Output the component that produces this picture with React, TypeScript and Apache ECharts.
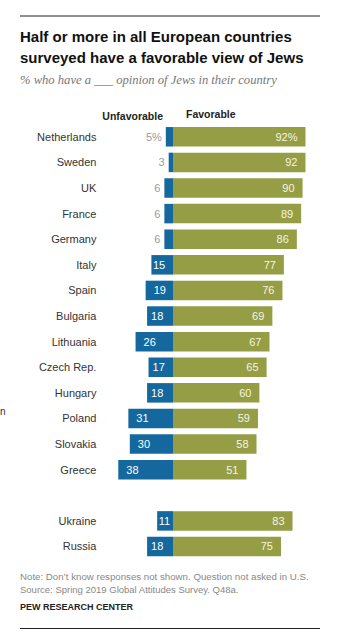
import React, { useEffect, useRef } from "react";
import * as echarts from "echarts";

const countries = [
  "Netherlands", "Sweden", "UK", "France", "Germany", "Italy", "Spain", "Bulgaria",
  "Lithuania", "Czech Rep.", "Hungary", "Poland", "Slovakia", "Greece", "", "Ukraine", "Russia",
];
const unfavorable: (number | null)[] = [5, 3, 6, 6, 6, 15, 19, 18, 26, 17, 18, 31, 30, 38, null, 11, 18];
const favorable: (number | null)[] = [92, 92, 90, 89, 86, 77, 76, 69, 67, 65, 60, 59, 58, 51, null, 83, 75];

const BLUE = "#15689d";
const OLIVE = "#959d45";
const FONT = "'Liberation Sans', Arial, sans-serif";

export default function App() {
  const ref = useRef<HTMLDivElement>(null);
  useEffect(() => {
    document.body.style.margin = "0";
    const chart = echarts.init(ref.current!, null, { renderer: "svg" });
    const unfData = unfavorable.map((v, i) => {
      if (v == null) return null;
      const small = v < 10;
      const txt = i === 0 ? `${v}%` : `${v}`;
      const inset = v >= 19 ? 8 : v >= 17 ? 4 : 1.5;
      return {
        value: -v,
        label: small
          ? { show: true, position: "left", distance: 4, color: "#9a9a9a", formatter: txt }
          : { show: true, position: "insideLeft", distance: inset, color: "#ffffff", formatter: txt },
      };
    });
    const favData = favorable.map((v, i) => {
      if (v == null) return null;
      return {
        value: v,
        label: { show: true, position: "insideRight", distance: 8, color: "#f7f4e4", formatter: i === 0 ? `${v}%` : `${v}` },
      };
    });
    chart.setOption({
      animation: false,
      textStyle: { fontFamily: FONT },
      grid: { left: 115.4, right: 37, top: 124, bottom: 84.7, containLabel: false },
      xAxis: {
        type: "value",
        min: -40,
        max: 100,
        show: false,
        splitLine: { show: false },
      },
      yAxis: {
        type: "category",
        data: countries,
        inverse: true,
        axisLine: { show: false, onZero: false },
        axisTick: { show: false },
        axisLabel: { margin: 19, color: "#333", fontSize: 11, fontFamily: FONT },
      },
      series: [
        {
          name: "Unfavorable",
          type: "bar",
          stack: "total",
          barWidth: 19.5,
          itemStyle: { color: BLUE },
          label: { fontSize: 11, fontFamily: FONT },
          data: unfData,
        },
        {
          name: "Favorable",
          type: "bar",
          stack: "total",
          barWidth: 19.5,
          itemStyle: { color: OLIVE },
          label: { fontSize: 11, fontFamily: FONT },
          data: favData,
        },
      ],
      graphic: [
        { type: "line", shape: { x1: 20, y1: 16, x2: 320, y2: 16 }, style: { stroke: "#222", lineWidth: 1 } },
        {
          type: "text", x: 20, y: 36,
          style: { text: "Half or more in all European countries", font: `bold 15px ${FONT}`, fill: "#111", verticalAlign: "middle" },
        },
        {
          type: "text", x: 20, y: 57,
          style: { text: "surveyed have a favorable view of Jews", font: `bold 15px ${FONT}`, fill: "#111", verticalAlign: "middle" },
        },
        {
          type: "text", x: 20, y: 80,
          style: { text: "% who have a ___ opinion of Jews in their country", font: `italic 12.6px 'Liberation Serif', Georgia, serif`, fill: "#777", verticalAlign: "middle" },
        },
        {
          type: "text", x: 163, y: 116,
          style: { text: "Unfavorable", font: `bold 10.5px ${FONT}`, fill: "#222", align: "right", verticalAlign: "middle" },
        },
        {
          type: "text", x: 186, y: 114,
          style: { text: "Favorable", font: `bold 10.5px ${FONT}`, fill: "#222", align: "left", verticalAlign: "middle" },
        },
        {
          type: "text", x: 0, y: 411,
          style: { text: "n", font: `10px ${FONT}`, fill: "#333", verticalAlign: "middle" },
        },
        {
          type: "text", x: 20, y: 576,
          style: { text: "Note: Don\u2019t know responses not shown. Question not asked in U.S.", font: `9.7px ${FONT}`, fill: "#888", verticalAlign: "middle" },
        },
        {
          type: "text", x: 20, y: 589,
          style: { text: "Source: Spring 2019 Global Attitudes Survey. Q48a.", font: `9.5px ${FONT}`, fill: "#888", verticalAlign: "middle" },
        },
        {
          type: "text", x: 20, y: 607,
          style: { text: "PEW RESEARCH CENTER", font: `bold 9px ${FONT}`, fill: "#222", verticalAlign: "middle" },
        },
        { type: "line", shape: { x1: 20, y1: 628.5, x2: 320, y2: 628.5 }, style: { stroke: "#222", lineWidth: 1 } },
      ],
    });
    return () => chart.dispose();
  }, []);
  return <div ref={ref} style={{ width: 354, height: 644 }} />;
}
